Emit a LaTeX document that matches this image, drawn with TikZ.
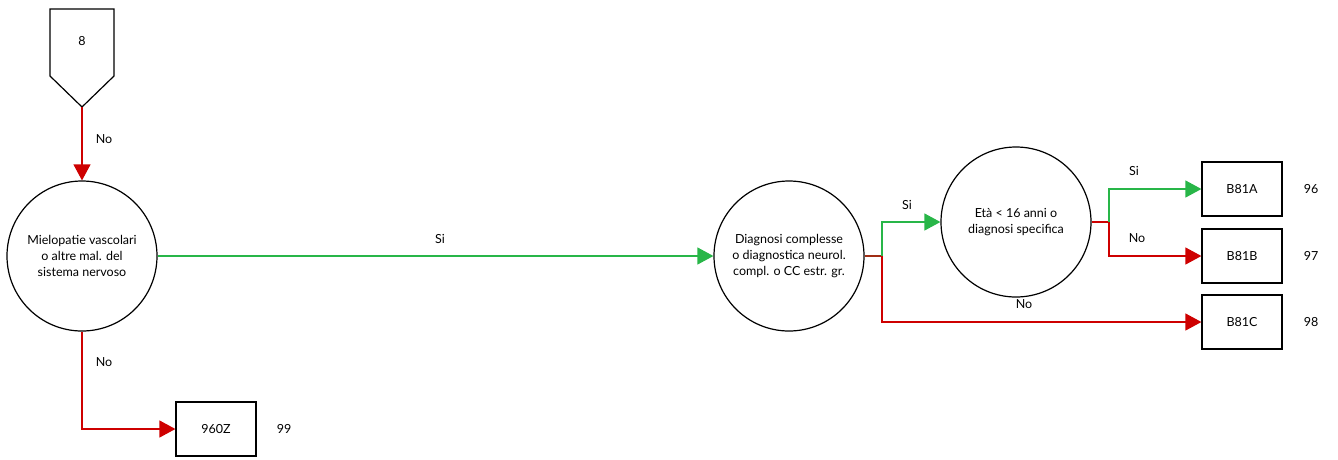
\documentclass[tikz,border=0pt]{standalone}
\usepackage{fontspec}
\setmainfont{Lato}
\usetikzlibrary{arrows.meta}
\usetikzlibrary{positioning}
\definecolor{siGreen}{RGB}{40,182,72}
\definecolor{noRed}{RGB}{206,0,0}
\definecolor{mixBrown}{RGB}{160,45,20}
\tikzset{
  txt/.style={inner sep=0pt, font=\fontsize{12.5}{16.3}\selectfont},
  dec/.style={txt, draw, circle, line width=1.2pt, minimum size=150pt, align=center},
  leaf/.style={txt, draw, rectangle, line width=1.2pt, minimum width=80pt, minimum height=54pt},
  si/.style={draw=siGreen, line width=1.2pt, -{Triangle[length=16pt,width=17pt,fill=siGreen]}},
  no/.style={draw=noRed, line width=1.2pt, -{Triangle[length=16pt,width=17pt,fill=noRed]}},
}
\begin{document}
\begin{tikzpicture}[x=1pt,y=-1pt]
\useasboundingbox (0,0) rectangle (1338,459);
\node[txt] (n8) at (82,41) {8};
\draw[line width=1.2pt] (50,9) -- (114,9) -- (114,76) -- (82,107) coordinate (p8) -- (50,76) -- cycle;
\node[dec] (c1) at (82,256) {Mielopatie vascolari\\o altre mal. del\\sistema nervoso};
\node[dec] (c2) at (789,256) {Diagnosi complesse\\o diagnostica neurol.\\compl. o CC estr. gr.};
\node[dec] (c3) at (1016,222) {Età < 16 anni o\\diagnosi specifica};
\node[leaf] (z960) at (216,429) {960Z};
\node[leaf] (b81a) at (1242,189) {B81A};
\node[leaf] (b81b) at (1242,256) {B81B};
\node[leaf] (b81c) at (1242,322) {B81C};
\node[txt] (r99) at (284,429) {99};
\node[txt] (r96) at (1311,189) {96};
\node[txt] (r97) at (1311,256) {97};
\node[txt] (r98) at (1311,322) {98};
\node[txt] (l1) at (104,139) {No};
\node[txt] (l2) at (104,362) {No};
\node[txt] (l3) at (440,239) {Si};
\node[txt] (l4) at (907,205) {Si};
\node[txt] (l5) at (1024,304) {No};
\node[txt] (l6) at (1134,171) {Si};
\node[txt] (l7) at (1137,238) {No};
\coordinate (j2) at (882,256);
\coordinate (j3) at (1109,222);
\draw[no] (p8) -- (c1.north);
\draw[no] (c1.south) |- (z960.west);
\draw[si] (c1.east) -- (c2.west);
\draw[mixBrown, line width=1.2pt] (c2.east) -- (j2);
\draw[si] (j2) |- (c3.west);
\draw[no] (j2) |- (b81c.west);
\draw[noRed, line width=1.2pt] (c3.east) -- (j3);
\draw[si] (j3) |- (b81a.west);
\draw[no] (j3) |- (b81b.west);
\end{tikzpicture}
\end{document}
